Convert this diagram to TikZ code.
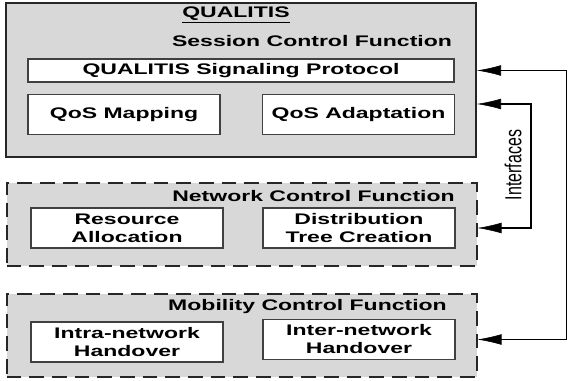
\documentclass[tikz,border=0pt]{standalone}
\usepackage{fontspec}
\setmainfont{Liberation Sans}
\newfontfamily\boxfont[FakeStretch=1.5]{Liberation Sans Bold}
\usetikzlibrary{arrows.meta}
\definecolor{panelgray}{RGB}{216,216,216}
\definecolor{edgegray}{RGB}{64,64,64}
\begin{document}
\begin{tikzpicture}[x=0.75pt,y=0.75pt,
  panel/.style={draw=black!85,line width=1.5pt,fill=panelgray,minimum width=352.5pt,inner sep=0pt},
  dashpanel/.style={panel,dash pattern=on 11pt off 6pt},
  fn/.style={draw=edgegray,line width=0.8pt,fill=white,minimum width=144pt,minimum height=30pt,inner sep=0pt,
    font=\boxfont\fontsize{11.5}{13.5}\selectfont,align=center},
  lbl/.style={font=\boxfont\fontsize{11.5}{13.5}\selectfont,inner sep=0pt}]
\useasboundingbox (0,0) rectangle (568,-381);
\node[panel,minimum height=115.5pt] (sess) at (241,-80) {};
\node[dashpanel,minimum height=62.25pt] (net) at (241.5,-224.5) {};
\node[dashpanel,minimum height=62.25pt] (mob) at (241.5,-335.5) {};
\node[lbl] (title) at (236,-15) {\underline{QUALITIS}};
\node[lbl] (sesstxt) at (312,-41) {Session Control Function};
\node[lbl] (nettxt) at (313.5,-196) {Network Control Function};
\node[lbl] (mobtxt) at (307.5,-307) {Mobility Control Function};
\node[fn,minimum width=319.5pt,minimum height=17.25pt] (sig) at (241,-70.5) {QUALITIS Signaling Protocol};
\node[fn] (map) at (124,-114.5) {QoS Mapping};
\node[fn] (adapt) at (358.5,-114.5) {QoS Adaptation};
\node[fn] (alloc) at (127,-228) {Resource\\Allocation};
\node[fn] (dist) at (359,-228) {Distribution\\Tree Creation};
\node[fn] (intra) at (127,-342) {Intra-network\\Handover};
\node[fn] (inter) at (359,-339.5) {Inter-network\\Handover};
\node[rotate=90,yscale=1.45,font=\fontsize{12}{14}\selectfont,inner sep=0pt] (ifc) at (513,-165) {Interfaces};
\coordinate (itop) at (531,-104);
\coordinate (otop) at (566.5,0);
\draw[line width=1.6pt] ([xshift=10pt]sess.east |- itop) -- (itop) |- ([xshift=10pt]net.east |- dist);
\draw[line width=1.2pt] ([xshift=10pt]sess.east |- sig) -| (otop |- inter) -- ([xshift=10pt]mob.east |- inter);
\draw[-{Latex[length=18pt,width=8pt]}] ([xshift=20pt]sess.east |- itop) -- (sess.east |- itop);
\draw[-{Latex[length=18pt,width=8pt]}] ([xshift=20pt]net.east |- dist) -- (net.east |- dist);
\draw[-{Latex[length=18pt,width=8pt]}] ([xshift=20pt]sess.east |- sig) -- (sess.east |- sig);
\draw[-{Latex[length=18pt,width=8pt]}] ([xshift=20pt]mob.east |- inter) -- (mob.east |- inter);
\end{tikzpicture}
\end{document}
